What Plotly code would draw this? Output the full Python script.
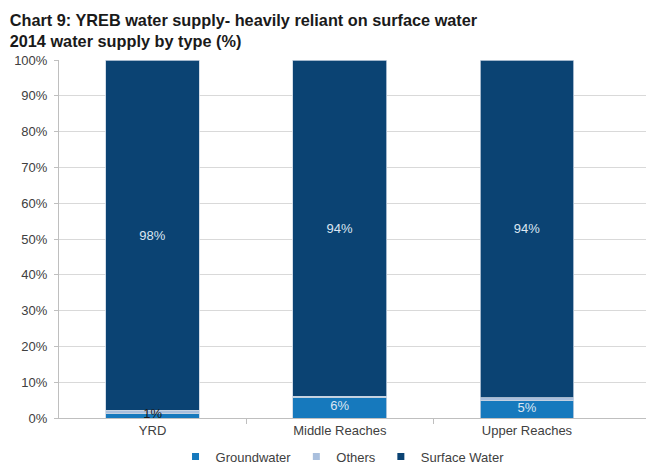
import plotly.graph_objects as go

categories = ["YRD", "Middle Reaches", "Upper Reaches"]
groundwater = [1.3, 5.8, 4.8]
others = [0.9, 0.3, 0.9]
surface = [97.8, 93.9, 94.3]
gw_labels = ["1%", "6%", "5%"]
sw_labels = ["98%", "94%", "94%"]
gw_label_colors = ["#1a1a1a", "#dce6f2", "#dce6f2"]

series_names = ["Groundwater", "Others", "Surface Water"]
series_colors = ["#1679bd", "#a9bfdd", "#0b4373"]

FONT = "Liberation Sans, Arial, sans-serif"
edge = dict(color="#c9d4e2", width=0.8)

fig = go.Figure()
fig.add_trace(go.Bar(name=series_names[0], x=categories, y=groundwater, showlegend=False,
                     marker=dict(color=series_colors[0], line=edge), width=0.5))
fig.add_trace(go.Bar(name=series_names[1], x=categories, y=others, showlegend=False,
                     marker=dict(color=series_colors[1], line=edge), width=0.5))
fig.add_trace(go.Bar(name=series_names[2], x=categories, y=surface, showlegend=False,
                     marker=dict(color=series_colors[2], line=edge), width=0.5,
                     text=sw_labels, textposition="inside", insidetextanchor="middle",
                     textangle=0,
                     textfont=dict(color="#dce6f2", size=13, family=FONT)))
# groundwater labels centred on their segments
fig.add_trace(go.Scatter(x=categories, y=[g / 2 + 0.3 for g in groundwater], mode="text",
                         text=gw_labels, textposition="middle center", showlegend=False,
                         hoverinfo="skip",
                         textfont=dict(color=gw_label_colors, size=13, family=FONT)))
# legend entries with small square keys
for name, color in zip(series_names, series_colors):
    fig.add_trace(go.Scatter(x=[None], y=[None], mode="markers", name=name,
                             marker=dict(symbol="square", size=7, color=color)))

fig.update_layout(
    barmode="stack",
    width=646, height=466,
    margin=dict(l=59, r=0, t=60, b=48, autoexpand=False),
    paper_bgcolor="white", plot_bgcolor="white",
    font=dict(family=FONT, size=13, color="#404040"),
    title=dict(text="<b>Chart 9: YREB water supply- heavily reliant on surface water<br>2014 water supply by type (%)</b>",
               xref="container", yref="container", x=0.015, xanchor="left",
               y=0.945, yanchor="top",
               font=dict(family=FONT, size=16.3, color="#1a1a1a")),
    showlegend=True,
    legend=dict(orientation="h", x=0.483, xanchor="center", y=-0.108, yanchor="middle",
                font=dict(size=13, color="#404040"), itemwidth=30, traceorder="normal"),
    xaxis=dict(range=[-0.5, 2.636], showline=True, linecolor="#bfbfbf", linewidth=1,
               ticks="", showgrid=False, tickfont=dict(size=13, color="#404040"),
               minor=dict(tickvals=[0.5, 1.5], ticks="outside", ticklen=5, tickcolor="#bfbfbf",
                          showgrid=False)),
    yaxis=dict(range=[0, 100], dtick=10, ticksuffix="%", showline=True, linecolor="#bfbfbf",
               linewidth=1, gridcolor="#d9d9d9", gridwidth=1, zeroline=False,
               ticks="outside", ticklen=4, tickcolor="#bfbfbf",
               ticklabelstandoff=4, tickfont=dict(size=13, color="#404040")),
)

fig.write_html("out.html", config={"displayModeBar": False},
               post_script="document.body.style.margin='0';")
